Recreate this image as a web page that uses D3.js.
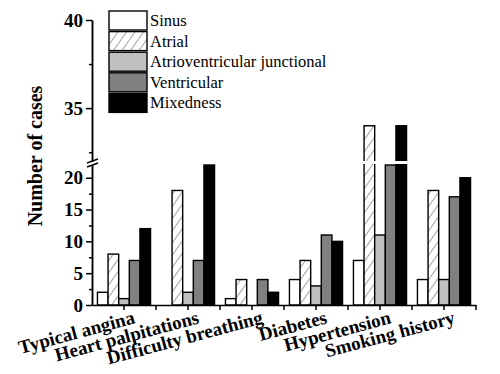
<!DOCTYPE html>
<html>
<head>
<meta charset="utf-8">
<script src="https://cdn.jsdelivr.net/npm/d3@7"></script>
<style>
  body { margin: 0; background: #fff; }
  svg text { font-family: "Liberation Serif", "DejaVu Serif", "Times New Roman", serif !important; fill: #000; }
</style>
</head>
<body>
<div id="chart"></div>
<script>
const categories = ["Typical angina", "Heart palpitations", "Difficulty breathing", "Diabetes", "Hypertension", "Smoking history"];
const seriesNames = ["Sinus", "Atrial", "Atrioventricular junctional", "Ventricular", "Mixedness"];
const sinus = [2, 0, 1, 4, 7, 4];
const atrial = [8, 18, 4, 7, 34, 18];
const avJunctional = [1, 2, 0, 3, 11, 4];
const ventricular = [7, 7, 4, 11, 22, 17];
const mixedness = [12, 22, 2, 10, 34, 20];
const lowerTicks = [0, 5, 10, 15, 20];
const upperTicks = [35, 40];
const lowerMinor = [2.5, 7.5, 12.5, 17.5];
const upperMinor = [32.5, 37.5];

const WIDTH = 500, HEIGHT = 374;
const FONT = '"Liberation Serif", "DejaVu Serif", serif';
const seriesValues = [sinus, atrial, avJunctional, ventricular, mixedness];
const fills = ["#ffffff", "url(#hatch)", "#c0c0c0", "#808080", "#000000"];

const svg = d3.select("#chart").append("svg")
  .attr("width", WIDTH).attr("height", HEIGHT);

// hatch for the Atrial series
svg.append("defs").append("pattern")
  .attr("id", "hatch")
  .attr("patternUnits", "userSpaceOnUse")
  .attr("width", 7).attr("height", 7)
  .attr("patternTransform", "rotate(35)")
  .call(p => {
    p.append("rect").attr("width", 7).attr("height", 7).attr("fill", "#fff");
    p.append("line").attr("x1", 0).attr("y1", 0).attr("x2", 0).attr("y2", 7)
      .attr("stroke", "#555").attr("stroke-width", 1.1);
  });

const x = d3.scaleBand().domain(categories).range([92, 476])
  .paddingInner(0.17).paddingOuter(0.085);
const xs = d3.scaleBand().domain(seriesNames).range([0, x.bandwidth()]);

// broken y axis: lower and upper segments
const yLow = d3.scaleLinear().domain([0, 22]).range([305, 165]);
const yUp = d3.scaleLinear().domain([32, 40]).range([161, 20]);

const defs = svg.select("defs");
defs.append("clipPath").attr("id", "clipLow").append("rect")
  .attr("x", 0).attr("y", yLow(22) - 1).attr("width", WIDTH).attr("height", yLow(0) - yLow(22) + 1);
defs.append("clipPath").attr("id", "clipUp").append("rect")
  .attr("x", 0).attr("y", 0).attr("width", WIDTH).attr("height", yUp(32));

const data = [];
categories.forEach((c, i) => {
  seriesNames.forEach((s, j) => {
    data.push({ cat: c, series: s, value: seriesValues[j][i], fill: fills[j] });
  });
});
const shown = data.filter(d => d.value > 0);

function drawBars(scale, clip) {
  svg.append("g").attr("clip-path", `url(#${clip})`)
    .selectAll("rect").data(shown).join("rect")
    .attr("x", d => x(d.cat) + xs(d.series))
    .attr("width", xs.bandwidth())
    .attr("y", d => scale(d.value))
    .attr("height", d => Math.max(0, scale(0) - scale(d.value)))
    .attr("fill", d => d.fill)
    .attr("stroke", "#000")
    .attr("stroke-width", 1.4);
}
drawBars(yLow, "clipLow");
drawBars(yUp, "clipUp");

// axes
const axisStyle = g => {
  g.attr("font-family", FONT);
  g.selectAll("path, line").attr("stroke", "#000").attr("stroke-width", 1.5);
  g.selectAll("text").attr("font-size", 19).attr("font-weight", "bold");
};

svg.append("g").attr("transform", "translate(92,0)")
  .call(d3.axisLeft(yLow).tickValues(lowerTicks).tickSize(6).tickSizeOuter(0).tickPadding(3))
  .call(axisStyle);
svg.append("g").attr("transform", "translate(92,0)")
  .call(d3.axisLeft(yUp).tickValues(upperTicks).tickSize(6).tickSizeOuter(0).tickPadding(3))
  .call(axisStyle);
svg.append("g").attr("transform", "translate(92,0)")
  .call(d3.axisLeft(yLow).tickValues(lowerMinor).tickSize(3).tickSizeOuter(0).tickFormat(""))
  .call(axisStyle);
svg.append("g").attr("transform", "translate(92,0)")
  .call(d3.axisLeft(yUp).tickValues(upperMinor).tickSize(3).tickSizeOuter(0).tickFormat(""))
  .call(axisStyle);

// axis break marks
svg.append("g").selectAll("line").data([yUp(32), yLow(22)]).join("line")
  .attr("x1", 87).attr("x2", 98)
  .attr("y1", d => d + 2).attr("y2", d => d - 2)
  .attr("stroke", "#000").attr("stroke-width", 1.4);

// x axis, ticks at group centres and between groups
const xAxis = svg.append("g").attr("transform", "translate(0,305)")
  .call(d3.axisBottom(x).tickSize(5).tickSizeOuter(0).tickFormat(""))
  .call(axisStyle);
const bounds = categories.slice(1).map(c => x(c) - x.step() * x.paddingInner() / 2);
xAxis.selectAll(".between").data(bounds.concat([476])).join("line")
  .attr("class", "between")
  .attr("x1", d => d).attr("x2", d => d)
  .attr("y1", 0).attr("y2", 5)
  .attr("stroke", "#000").attr("stroke-width", 1.5);

svg.append("g").attr("font-family", FONT)
  .selectAll("text").data(categories).join("text")
  .attr("transform", d => `translate(${x(d) + x.bandwidth() / 2 + 12},323) rotate(-15)`)
  .attr("text-anchor", "end")
  .attr("font-size", 19)
  .attr("font-weight", "bold")
  .text(d => d);

svg.append("text")
  .attr("font-family", FONT)
  .attr("transform", "translate(42,156) rotate(-90)")
  .attr("text-anchor", "middle")
  .attr("font-size", 20)
  .attr("font-weight", "bold")
  .text("Number of cases");

// legend
const legend = svg.append("g").attr("font-family", FONT)
  .selectAll("g").data(seriesNames).join("g")
  .attr("transform", (d, i) => `translate(109,${11 + i * 20.6})`);
legend.append("rect")
  .attr("width", 38).attr("height", 19)
  .attr("fill", (d, i) => fills[i])
  .attr("stroke", "#000").attr("stroke-width", 1.4);
legend.append("text")
  .attr("x", 41).attr("y", 15)
  .attr("font-size", 16.5)
  .text(d => d);
</script>
</body>
</html>
